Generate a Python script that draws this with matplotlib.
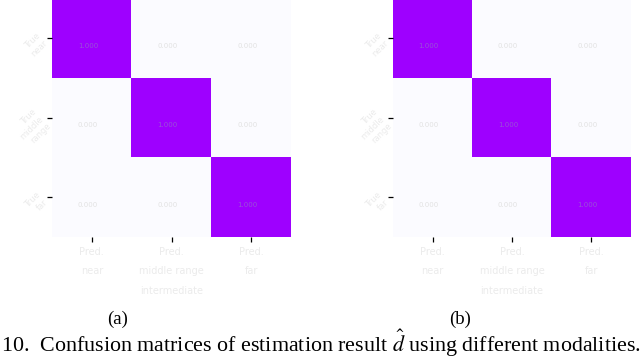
import numpy as np
import matplotlib
matplotlib.use('Agg')
import matplotlib.pyplot as plt
from matplotlib.colors import LinearSegmentedColormap

# class names (too faint to read in the source, kept short)
pred_labels = ['Pred.\nnear', 'Pred.\nmiddle range\nintermediate', 'Pred.\nfar']
true_labels = ['True\nnear', 'True\nmiddle\nrange', 'True\nfar']

# normalised confusion matrices, (a) and (b)
cm_a = np.array([[1.00, 0.00, 0.00],
                 [0.00, 1.00, 0.00],
                 [0.00, 0.00, 1.00]])
cm_b = np.array([[1.00, 0.00, 0.00],
                 [0.00, 1.00, 0.00],
                 [0.00, 0.00, 1.00]])

panel_names = ['(a)', '(b)']
caption = r'10.  Confusion matrices of estimation result $\hat{d}$ using different modalities.'

plt.rcParams['font.family'] = ['Liberation Serif', 'DejaVu Serif']
plt.rcParams['mathtext.fontset'] = 'stix'

cmap = LinearSegmentedColormap.from_list('wp', ['#fbfbff', '#9e00ff'])

fig = plt.figure(figsize=(6.4, 3.61), dpi=100)
W, H = 640, 361
boxes = [(52, 291), (393, 631)]
name_x = [118, 460]
top, bottom = -2, 237

for cm, (x0, x1), name, nx in zip([cm_a, cm_b], boxes, panel_names, name_x):
    ax = fig.add_axes([x0 / W, (H - bottom) / H, (x1 - x0) / W, (bottom - top) / H])
    ax.imshow(cm, cmap=cmap, vmin=0, vmax=1, aspect='auto', interpolation='nearest')
    for i in range(cm.shape[0]):
        for j in range(cm.shape[1]):
            col = '#9a50d8' if cm[i, j] > 0.5 else '#e2e2e2'
            ax.text(j - 0.05, i + 0.1, f'{cm[i, j]:.3f}', ha='center', va='center',
                    fontsize=5, color=col, family='DejaVu Sans')
    for s in ax.spines.values():
        s.set_visible(False)
    ax.set_xticks(range(3))
    ax.set_yticks(range(3))
    ax.set_xticklabels(pred_labels, fontsize=7, color='#ebebeb', linespacing=2.2,
                       family='DejaVu Sans')
    ax.set_yticklabels(true_labels, fontsize=6, color='#ebebeb', rotation=45,
                       rotation_mode='anchor', ha='right', va='center',
                       family='DejaVu Sans')
    ax.tick_params(axis='both', length=3.5, width=0.9, color='black')
    fig.text(nx / W, 1 - 319 / H, name, ha='center', va='center', fontsize=13.5)

fig.text(1 / W, 1 - 343 / H, caption, ha='left', va='center', fontsize=15.8)

fig.savefig('out.png', dpi=100)
